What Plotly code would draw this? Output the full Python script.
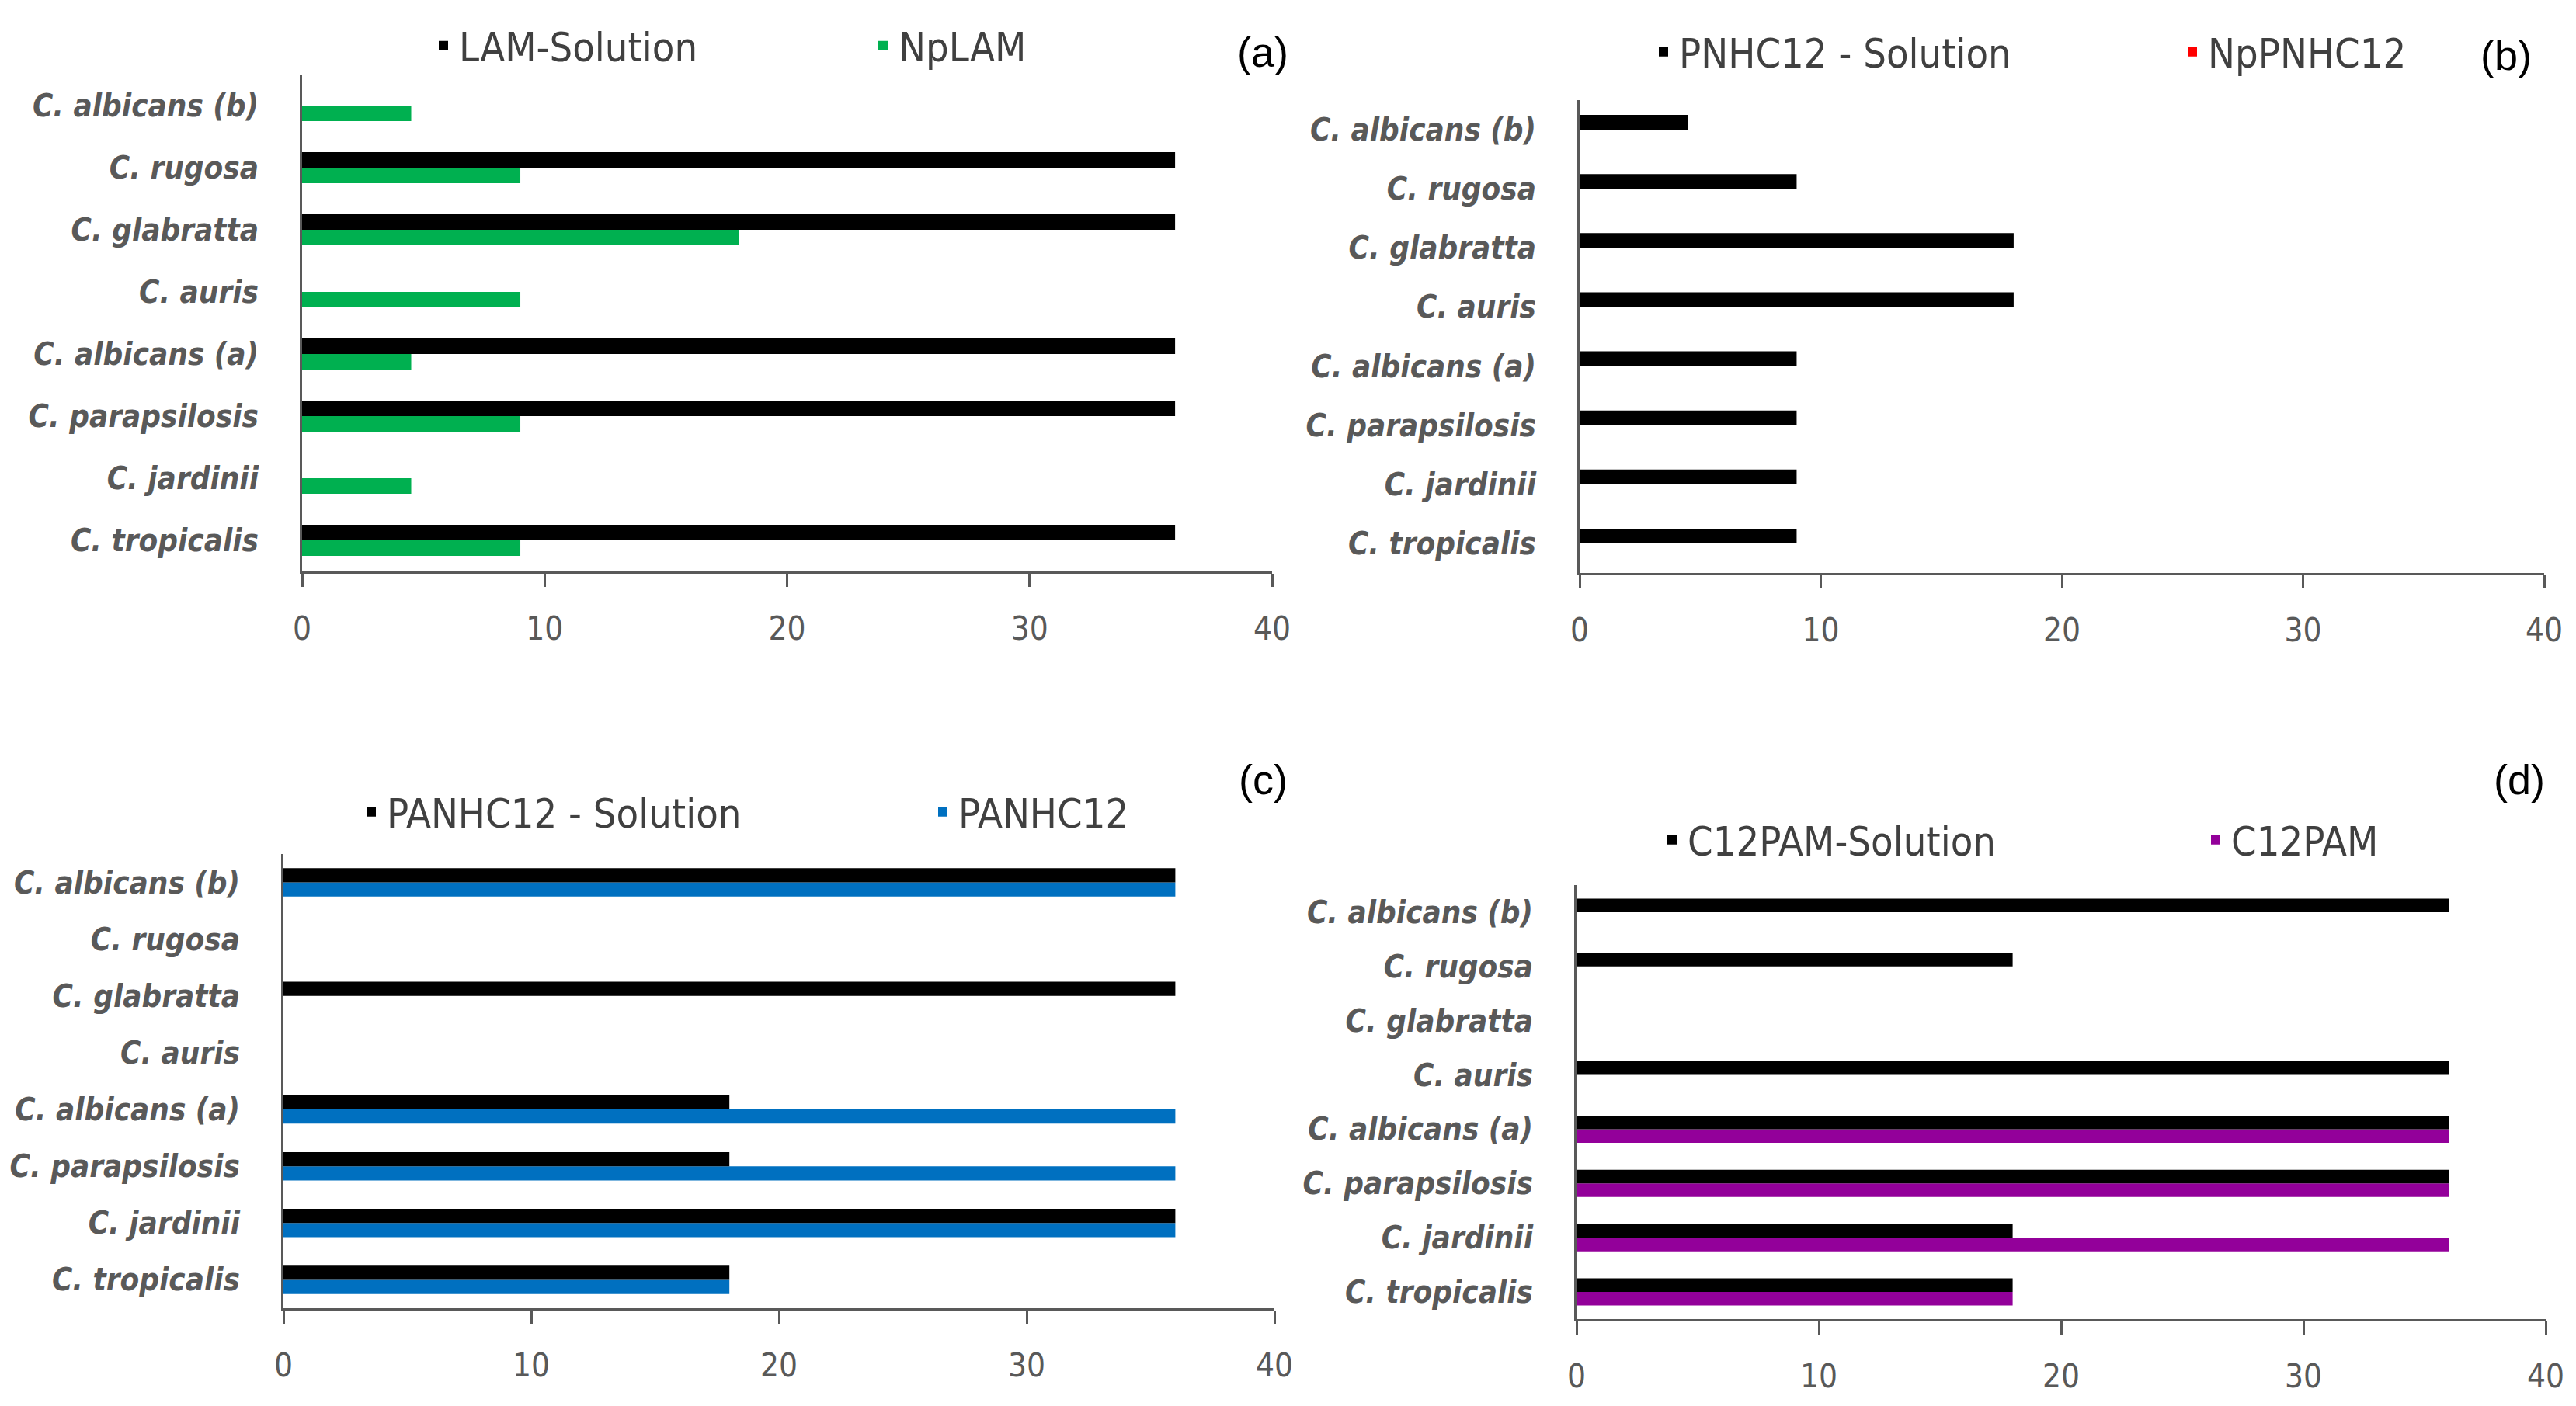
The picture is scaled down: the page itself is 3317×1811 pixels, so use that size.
import plotly.graph_objects as go

W, H = 3317, 1811

categories = ["C. tropicalis", "C. jardinii", "C. parapsilosis", "C. albicans (a)",
              "C. auris", "C. glabratta", "C. rugosa", "C. albicans (b)"]
x_ticks = [0, 10, 20, 30, 40]

# Panel (a)
a_names = ["LAM-Solution", "NpLAM"]
a_solution = [36, 0, 36, 36, 0, 36, 36, 0]
a_np = [9, 4.5, 9, 4.5, 9, 18, 9, 4.5]
# Panel (b)
b_names = ["PNHC12 - Solution", "NpPNHC12"]
b_solution = [9, 9, 9, 9, 18, 18, 9, 4.5]
b_np = [0, 0, 0, 0, 0, 0, 0, 0]
# Panel (c)
c_names = ["PANHC12 - Solution", "PANHC12"]
c_solution = [18, 36, 18, 18, 0, 36, 0, 36]
c_np = [18, 36, 36, 36, 0, 0, 0, 36]
# Panel (d)
d_names = ["C12PAM-Solution", "C12PAM"]
d_solution = [18, 18, 36, 36, 36, 0, 18, 36]
d_np = [18, 36, 36, 36, 0, 0, 0, 0]

panel_labels = ["(a)", "(b)", "(c)", "(d)"]

FONT = "Liberation Sans Narrow, Arial Narrow, DejaVu Sans Condensed, sans-serif"
GRAY = "#595959"

panels = [
    dict(names=a_names, sol=a_solution, np_=a_np, color="#00B050",
         px=(381, 1630), py=(88, 728), leg=(565, 1131, 51), lab=(1618, 59)),
    dict(names=b_names, sol=b_solution, np_=b_np, color="#FF0000",
         px=(2026, 3268), py=(121, 730), leg=(2136, 2817, 59), lab=(3219, 63)),
    dict(names=c_names, sol=c_solution, np_=c_np, color="#0070C0",
         px=(357, 1633), py=(1092, 1677), leg=(472, 1208, 1038), lab=(1618, 996)),
    dict(names=d_names, sol=d_solution, np_=d_np, color="#93009A",
         px=(2022, 3270), py=(1132, 1691), leg=(2147, 2847, 1074), lab=(3236, 996)),
]

fig = go.Figure()
layout = dict(
    width=W, height=H, margin=dict(l=0, r=0, t=0, b=0, autoexpand=False),
    paper_bgcolor="white", plot_bgcolor="white",
    barmode="group", bargap=0.5, bargroupgap=0,
    showlegend=True,
    font=dict(family=FONT, color=GRAY),
    annotations=[],
)

leg_idx = 0


def legend_name():
    global leg_idx
    leg_idx += 1
    return "legend" if leg_idx == 1 else "legend" + str(leg_idx)


for i, p in enumerate(panels):
    n = "" if i == 0 else str(i + 1)
    xa, ya = "x" + n, "y" + n
    lg_np = legend_name()
    lg_sol = legend_name()
    fig.add_trace(go.Bar(y=categories, x=p["np_"], orientation="h", name=p["names"][1],
                         marker=dict(color=p["color"], line=dict(width=0)),
                         xaxis=xa, yaxis=ya, legend=lg_np, showlegend=True))
    fig.add_trace(go.Bar(y=categories, x=p["sol"], orientation="h", name=p["names"][0],
                         marker=dict(color="#000000", line=dict(width=0)),
                         xaxis=xa, yaxis=ya, legend=lg_sol, showlegend=True))
    layout["xaxis" + n] = dict(
        domain=[p["px"][0] / W, p["px"][1] / W], anchor=ya,
        range=[0, 40], tickvals=x_ticks, ticks="outside", ticklen=17, tickwidth=3,
        tickcolor=GRAY, showline=True, linecolor=GRAY, linewidth=3,
        showgrid=False, zeroline=False, ticklabelstandoff=18,
        tickfont=dict(family=FONT, size=42, color=GRAY),
    )
    layout["yaxis" + n] = dict(
        domain=[1 - p["py"][1] / H, 1 - p["py"][0] / H], anchor=xa,
        type="category", categoryorder="array", categoryarray=categories,
        showline=True, linecolor=GRAY, linewidth=3, ticks="", showgrid=False,
        ticklabelstandoff=45,
        tickfont=dict(family=FONT, size=40, color=GRAY, style="italic", weight="bold"),
    )
    for lg, mx in ((lg_sol, p["leg"][0]), (lg_np, p["leg"][1])):
        layout[lg] = dict(
            orientation="h", x=(mx - 22) / W, y=1 - p["leg"][2] / H,
            xanchor="left", yanchor="middle", visible=True,
            font=dict(family=FONT, size=52, color="#404040"),
            bgcolor="rgba(0,0,0,0)",
        )
    layout["annotations"].append(dict(
        text=panel_labels[i], x=p["lab"][0] / W, y=1 - p["lab"][1] / H,
        xref="paper", yref="paper", showarrow=False, xanchor="center", yanchor="middle",
        font=dict(family="Liberation Sans, Arial, sans-serif", size=54, color="#000000"),
    ))

fig.update_layout(**layout)
fig.write_html("out.html")
